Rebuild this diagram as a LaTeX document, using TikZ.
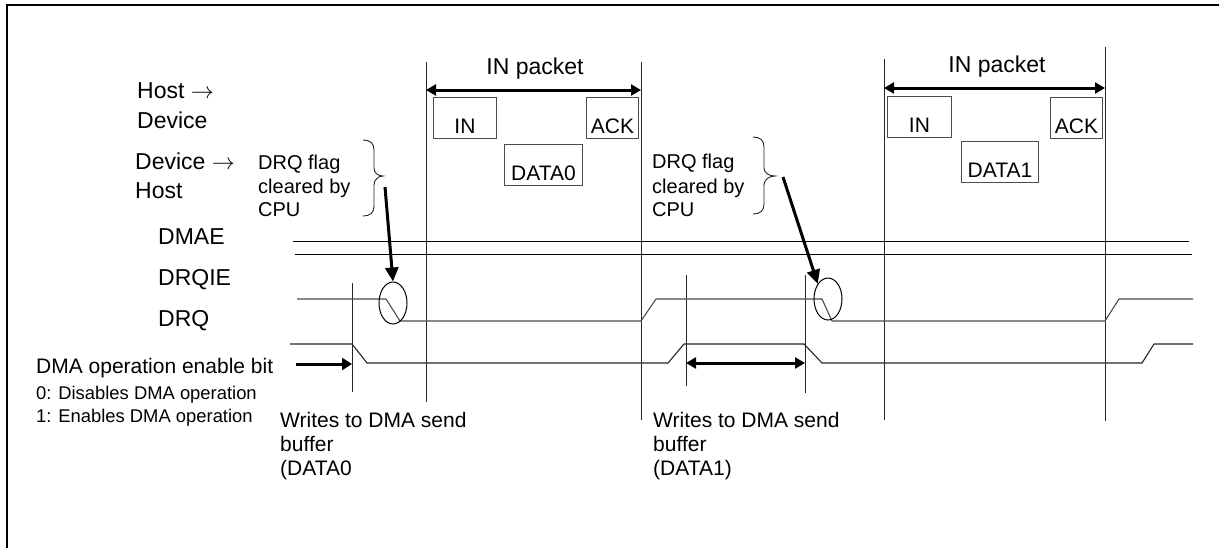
\RequirePackage{fix-cm}
\documentclass[tikz,border=0pt]{standalone}
\usepackage{fontspec}
\setmainfont{Liberation Sans}
\usetikzlibrary{arrows.meta,shapes.geometric}
\newcommand{\ftA}{\fontsize{23}{28}\selectfont}
\newcommand{\ftB}{\fontsize{21}{26}\selectfont}
\newcommand{\ftC}{\fontsize{20}{24}\selectfont}
\newcommand{\ftD}{\fontsize{18.4}{22}\selectfont}
\begin{document}
\begin{tikzpicture}[x=1pt,y=-1pt,
  lblA/.style={inner sep=0pt, anchor=base west, font=\ftA},
  lblB/.style={inner sep=0pt, anchor=base west, font=\ftB},
  lblC/.style={inner sep=0pt, anchor=base west, font=\ftC},
  lblD/.style={inner sep=0pt, anchor=base west, font=\ftD},
  vline/.style={line width=1pt, black!85},
  hline/.style={line width=1pt, black},
  sig/.style={line width=1.1pt, black!70},
  pkt/.style={draw=black!70, line width=0.9pt, inner xsep=0pt, inner ysep=0pt,
              text height=36pt, text depth=5pt, anchor=north west, font=\ftB},
  ringmark/.style={draw, line width=1pt, ellipse, minimum width=28pt, minimum height=42pt, inner sep=0pt},
  bigarrow/.style={line width=3pt, -{Triangle[length=14pt,width=13pt]}},
  sidearrow/.style={line width=3pt, -{Triangle[length=10pt,width=12pt]}},
  dblarrow/.style={line width=3pt, {Triangle[length=10pt,width=11pt]}-{Triangle[length=10pt,width=11pt]}},
  brc/.style={line width=0.9pt, black!85}
]
\useasboundingbox (0,0) rectangle (1219,547);
% frame
\draw[line width=2pt] (7,560) -- (7,5) -- (1230,5);

% vertical timing lines
\draw[vline] (426,62) -- (426,402);
\draw[vline] (641,62) -- (641,420);
\draw[vline] (884,59) -- (884,420);
\draw[vline] (1105,47) -- (1105,421);
\draw[vline] (352,283) -- (352,392);
\draw[vline] (686,275) -- (686,386);
\draw[vline] (805,275) -- (805,393);

% IN packet arrows and labels
\coordinate (p1l) at (426,90);
\coordinate (p1r) at (641,90);
\coordinate (p2l) at (884,88);
\coordinate (p2r) at (1105,88);
\draw[dblarrow] (p1l) -- (p1r);
\draw[dblarrow] (p2l) -- (p2r);
\node[inner sep=0pt, anchor=base, font=\ftA] (inp1) at (535,74) {IN packet};
\node[inner sep=0pt, anchor=base, font=\ftA] (inp2) at (997,72) {IN packet};

% packet boxes
\node[pkt, minimum width=63pt] (in1) at (433,97) {IN};
\node[pkt, minimum width=52pt] (ack1) at (586,97) {ACK};
\node[pkt, minimum width=78pt] (d0) at (504,144) {DATA0};
\node[pkt, minimum width=64pt] (in2) at (887,96) {IN};
\node[pkt, minimum width=52pt] (ack2) at (1050,97) {ACK};
\node[pkt, minimum width=77pt] (d1) at (961,141) {DATA1};

% left labels
\node[lblA] (hd1) at (137,98) {Host $\rightarrow$};
\node[lblA] (hd2) at (137,128) {Device};
\node[lblA] (dh1) at (135,169) {Device $\rightarrow$};
\node[lblA] (dh2) at (135,198) {Host};
\node[lblA] (dmae) at (158,244) {DMAE};
\node[lblA] (drqie) at (158,285) {DRQIE};
\node[lblA] (drq) at (158,326) {DRQ};

% DRQ flag notes
\node[lblC] (fa1) at (258,169) {DRQ flag};
\node[lblC] (fa2) at (258,193) {cleared by};
\node[lblC] (fa3) at (258,216) {CPU};
\node[lblC] (fb1) at (652,168) {DRQ flag};
\node[lblC] (fb2) at (652,193) {cleared by};
\node[lblC] (fb3) at (652,216) {CPU};

% braces
\draw[brc] (363,140) .. controls (370,140) and (374,143) .. (374,150) -- (374,168)
  .. controls (374,173) and (378,176) .. (383,176)
  .. controls (378,176) and (374,180) .. (374,185) -- (374,206)
  .. controls (374,213) and (370,216) .. (363,216);
\draw[brc] (753,137) .. controls (760,137) and (764,140) .. (764,147) -- (764,168)
  .. controls (764,173) and (769,176) .. (775,176)
  .. controls (769,176) and (764,180) .. (764,185) -- (764,204)
  .. controls (764,211) and (760,214) .. (753,214);

% DMAE / DRQIE lines
\draw[hline] (293,241) -- (1189,241);
\draw[hline] (295,254) -- (1192,254);

% DRQ signal
\draw[sig] (297,299) -- (386,299) -- (400,321) -- (641,321) -- (656,299) -- (822,299)
  -- (832,321) -- (1105,321) -- (1119,299) -- (1193,299);
% DMA enable signal
\draw[sig, black!85] (290,344) -- (352,344) -- (367,363) -- (668,363) -- (684,344) -- (804,344)
  -- (822,363) -- (1142,363) -- (1154,344) -- (1193,344);

% ellipses
\node[ringmark] (e1) at (393,303) {};
\node[ringmark] (e2) at (828,299) {};

% flag arrows
\coordinate (a1s) at (385,187);
\coordinate (a2s) at (783,177);
\draw[bigarrow] (a1s) -- (e1.north);
\draw[bigarrow] (a2s) -- (e2.north west);

% DMA operation enable bit
\node[lblB] (en) at (36,373) {DMA operation enable bit};
\node[lblD] (en0) at (36,399) {0: Disables DMA operation};
\node[lblD] (en1) at (36,422) {1: Enables DMA operation};
\coordinate (ena) at (296,364);
\coordinate (enb) at (352,364);
\draw[sidearrow] (ena) -- (enb);

% write window arrow
\coordinate (wa) at (686,363);
\coordinate (wb) at (805,363);
\draw[dblarrow] (wa) -- (wb);

% writes labels
\node[lblB] (wA1) at (280,427) {Writes to DMA send};
\node[lblB] (wA2) at (280,451) {buffer};
\node[lblB] (wA3) at (280,475) {(DATA0};
\node[lblB] (wB1) at (653,427) {Writes to DMA send};
\node[lblB] (wB2) at (653,451) {buffer};
\node[lblB] (wB3) at (653,475) {(DATA1)};
\end{tikzpicture}
\end{document}
